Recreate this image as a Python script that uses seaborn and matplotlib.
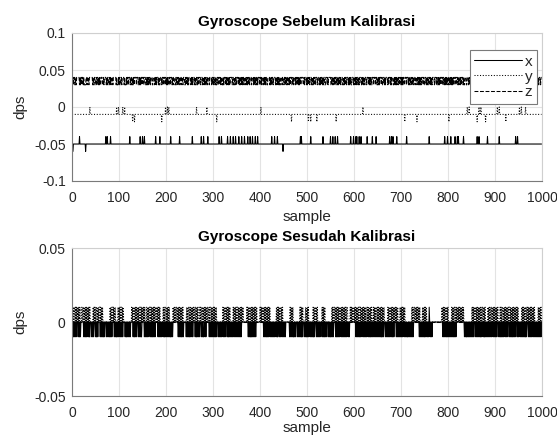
import numpy as np
import pandas as pd
import matplotlib
matplotlib.use("Agg")
import matplotlib.pyplot as plt
import seaborn as sns

# ---------------------------------------------------------------- data
N_SAMPLES = 1000

# Before calibration, x axis: sits at -0.05, steps to -0.04 / -0.06 at these samples
x_before_base = -0.05
x_before_up_idx = [16, 72, 75, 82, 123, 145, 150, 154, 178, 187, 210, 229, 256,
                   275, 280, 289, 313, 318, 331, 337, 343, 348, 355, 361, 367,
                   374, 379, 384, 390, 395, 425, 431, 437, 486, 488, 508, 534,
                   550, 555, 560, 565, 593, 599, 604, 606, 611, 615, 628, 639,
                   647, 676, 680, 683, 691, 712, 760, 793, 799, 806, 815, 820,
                   822, 833, 862, 866, 884, 909, 944, 948]
x_before_down_idx = [0, 1, 2, 29, 449]

# Before calibration, y axis: sits at -0.01, steps to 0 / -0.02 at these samples
y_before_base = -0.01
y_before_up_idx = [38, 95, 99, 108, 112, 199, 203, 206, 265, 287, 402, 619, 841,
                   845, 866, 870, 905, 909, 952, 956, 965]
y_before_down_idx = [129, 133, 191, 308, 467, 503, 508, 521, 562, 708, 734, 802,
                     862, 880, 923]

# Before calibration, z axis: '.' = 0.04, '3' = 0.03 (one char per sample)
z_before_code = [
    "33.3..33.3 ......3.3. .3..3.3333 ..3...3... ....3.33.. 33.3..3.3. 33...33.3. ...3.3..33 .3.3...3.. ....3.333.",
    "3.33..3... .3.333.3.. 3...3..3.3 3.3....3.. .33.3.3..3 ...3...33. 3.3.3..3.. .33...3.3. 3...3.33.. .3..3...3.",
    ".3.3.33..3 ...3.3...3 3..3.33.3. ..3...3... 33.3..3.3. ...3.3.3.. .3.33..3.. 3...3...3. .3.3.33.3. ..3....3..",
    "3.3..3.33. .3...3.3.. 33.3...3.3 ..3.3.3... .3..33.3.. 3...3.3..3 .3.3..3... 3.33.3..3. ..3...3.3. 3..3.3...3",
    "..3.3...3. 3.3..33... .3.3.3..3. ...3..3.3. 3.33...3.. .3..3.3..3 ..3.3...33 .3...3.3.. 3.3.3..3.. ..33.3...3",
    ".3.3..3... 3.33.3..3. ..3...3.3. 3..3.3..33 ...3.3.... .33.3..3.3 ..3..3.3.. 3.3...33.3 .3..3...3. 3.3.33...3",
    "..3.3.3..3 .3...33.3. 3..3...3.. .3.3.3.33. ..3...3..3 3.3.3...3. .33..3.3.. ..3.3...3. 3...33.3.3 .3..3..3..",
    "3.3.3..33. ..3...3.3. .3.33.3... 3...3..3.3 .3.3...3.. 33..3.3..3 ..3.3.3... .3...3.33. 3.3..3...3 ..3.3.3.3.",
    ".3..3.3.3. 3.33...3.. .3.3..3.3. ..3.33...3 3...3.3..3 .3.3..33.. ..3...3.3. 3.3.3..3.. .33.3...3. 3..3.3.3..",
    "3.3...3.3. .3.33..3.. 3..3.3...3 .3.3.3.3.. ..33...3.3 3.3.3..3.. .3...3.3.3 ..3.3..3.. 3.3.33..3. .3.3...3..",
]
z_before_levels = {".": 0.04, "3": 0.03}

# After calibration, x axis: '.' = 0, '-' = -0.01, '+' = 0.01
x_after_code = [
    "-.--.-.-.- ...-.--.-. .....-.-.- -.-..-.--. ..-.-.-... -.--.-.... -.-.-.--.- ...-.-..-. --.-.-.... -.-.--.-.-",
    "..-.-.-.-. ...-.--.-. -.-.-..... -.--.-.-.. .-.-.-.--. ....-.-.-. -.-...-.-. --.-.-.-.. ...-.-.-.- .-..-.--.-",
    ".-.-.-.-.- -.-.-..... ......-.-. -.--.-.-.. ...-.-.-.- -.-..-.-.. ..-.--.-.- .-...-.-.- -..-.-.... ..-.-.-.-.",
    "-.-.--.-.. .-.-.-.-.- ..-.-.-... -.--.-.-.- .-.-..-.-. -.-.-.-.-. -......... .....-.-.- -.--.-.-.- .-........",
    "........-. -.-.--.-.- ..-.-.-.-. -.-..-.--. .-.-.-..-. -.-.-..... ...-.-.-.- .--.-.-... -.-.-.-.-- .-...-.-.-",
    "-.-.-..-.- .-.--.-... -.-.-.-.-. ..-.-.--.- .-...-.-.- -.-.-.-... .-.--.-.-. -..-.-.-.- .-.-.-..-. -.........",
    "....-.-.-. -.--.-...- .-.-.-.-.. -.-.--.-.- .-..-.-.-. -.-.-.-.-- .-.-...-.- .-.-.-.-.. -.--.-.... -.-.-.-.-.",
    "-.-.-..-.- .-.--.-.-. -.-.-.-... .........- .-.-.-.-.- -.-..-.-.- +.-.-.-... .......... .........- .-.-.-.--.",
    "-.-.-.-.-. -.--.-.-.. .......... .....-.-.- -.-.--.-.- .-.-.-...- .-.-.-.-.- -.-..-.--. -.-.-.-.-. .-.-..-.-.",
    "-.-.-...-. -.--.-.-.- ..-.-.-... -.-.-.--.- .-.-...-.- .-..-.-.-. -.-.--.-.. .-.-.-.-.- ..-.-.-.-. -.-.-.-.-.",
]
x_after_levels = {".": 0.0, "-": -0.01, "+": 0.01}

# After calibration, y axis: '.' = 0, '+' = 0.01
y_after_code = [
    "+.+.++.+.+ .+.+.+.+.. .+.++.+.+. +.+.+.+.+. .....+.+.+ .++.+.+.++ .+.+.+.... .......... .+.+.++.+. +.+.....+.",
    "+.+.++.+.+ .......... .......+.+ .++.+.+.+. +.+.++.+.+ .+.+.+...+ .+.+.++.+. +.+.+.+.++ .+.+.+.+.. ....+.+.++",
    ".+.+.+.+.. .....+.+.+ .++.+.+.+. +.+.+.+... ....+.+.++ .+.+.+.+.+ .++.+.+.+. ..+.+.++.+ .+.+.+.+.+ +.+.++.+.+",
    ".+.+.+.+.. .......... .+.+.++.+. +.+.+.+... ...+.+.+.+ .++.+.+.+. +.+.+..... ..+.+.+.++ .+.+.+.+.+ .+.+......",
    "+.+.+.++.+ .+.+.+.+.+ .+........ .....+.+.+ .+.++.+.+. .......... ....+.+.+. +......... .....+.+.+ .+.....+.+",
    ".+.+...... ...+.+.++. +.+....... ..+.+.+.+. .......... ...+.+.++. +.+.+.+.+. ++.+.+.+.+ .+.+.++... ..+.+.+.++",
    ".+.+.+.+.+ .++.+.+.+. +.+.+.++.+ .+.+.+.+.. .+.+.+.++. +.+.+.+.+. +.+.+..... ..+.+.++.+ .+.+.+.+.+ .+.+....+.",
    "+.+.+.+.+. .......... ...+.+.++. +.+.+.+.+. +.....+.+. +.+.+..... .......... .......... .......+.+ .+.+.++.+.",
    "+.......+. +.+.++.+.+ .+.+.+.+.+ .+.+...... .......... .+.+.+.++. +.+.+.+.+. +.++.+.+.+ .....+.+.+ .++.+.+.+.",
    "+.+.+.+... .+.+.++.+. +.+.+.+.+. ++.+.+.+.+ .+.+.+.+.+ .......+.+ .+.+.++.+. +.+.+.+.+. +.+.+..... ..+.+.+.+.",
]
y_after_levels = {".": 0.0, "+": 0.01}

# After calibration, z axis stays at zero
z_after_value = 0.0

series_labels = ["x", "y", "z"]
x_ticks = [0, 100, 200, 300, 400, 500, 600, 700, 800, 900, 1000]
y_ticks_before = [-0.1, -0.05, 0, 0.05, 0.1]
y_ticks_after = [-0.05, 0, 0.05]
titles = ["Gyroscope Sebelum Kalibrasi", "Gyroscope Sesudah Kalibrasi"]


# ---------------------------------------------------------------- helpers
def decode(rows, levels):
    code = "".join(rows).replace(" ", "")
    assert len(code) == N_SAMPLES, len(code)
    return np.array([levels[c] for c in code])


def from_events(base, up_idx, up_val, down_idx, down_val):
    values = np.full(N_SAMPLES, base)
    values[up_idx] = up_val
    values[down_idx] = down_val
    return values


sample = np.arange(N_SAMPLES)
before = pd.DataFrame({
    "sample": sample,
    "x": from_events(x_before_base, x_before_up_idx, -0.04, x_before_down_idx, -0.06),
    "y": from_events(y_before_base, y_before_up_idx, 0.0, y_before_down_idx, -0.02),
    "z": decode(z_before_code, z_before_levels),
})
after = pd.DataFrame({
    "sample": sample,
    "x": decode(x_after_code, x_after_levels),
    "y": decode(y_after_code, y_after_levels),
    "z": np.full(N_SAMPLES, z_after_value),
})

# ---------------------------------------------------------------- style
sns.set_style("white")
plt.rcParams["font.family"] = ["Liberation Sans", "DejaVu Sans"]
plt.rcParams["axes.unicode_minus"] = False

W, H = 557, 437
fig = plt.figure(figsize=(W / 100, H / 100), dpi=100)


def px_axes(left, top, right, bottom):
    return fig.add_axes([left / W, 1 - bottom / H, (right - left) / W, (bottom - top) / H])


ax_top = px_axes(72, 33, 542, 181)
ax_bot = px_axes(72, 248, 542, 396)

line_styles = {"x": "-", "y": ":", "z": "--"}
line_w = 0.75
tick_color = "#262626"

for ax, df, yticks, title, xlabel_pad in [
    (ax_top, before, y_ticks_before, titles[0], 3),
    (ax_bot, after, y_ticks_after, titles[1], 0.5),
]:
    for name in series_labels:
        sns.lineplot(data=df, x="sample", y=name, ax=ax, color="black",
                     linewidth=line_w, linestyle=line_styles[name],
                     estimator=None, label=name, legend=False)
    ax.set_xlim(0, 1000)
    ax.set_ylim(yticks[0], yticks[-1])
    ax.set_xticks(x_ticks)
    ax.set_xticklabels([str(t) for t in x_ticks])
    ax.set_yticks(yticks)
    ax.set_yticklabels([f"{t:g}" for t in yticks])
    ax.grid(True, color="#e3e3e3", linewidth=0.8)
    ax.set_axisbelow(True)
    ax.tick_params(direction="in", length=4, width=0.7, color="#7a7a7a",
                   labelsize=10, labelcolor=tick_color)
    ax.tick_params(axis="x", pad=7.5)
    ax.tick_params(axis="y", pad=4.5)
    for side in ["left", "bottom"]:
        ax.spines[side].set_color("#7a7a7a")
        ax.spines[side].set_linewidth(0.8)
    for side in ["top", "right"]:
        ax.spines[side].set_color("#cfcfcf")
        ax.spines[side].set_linewidth(0.8)
    ax.set_xlabel("sample", fontsize=11, color=tick_color, labelpad=xlabel_pad)
    ax.set_ylabel("dps", fontsize=11, color=tick_color, labelpad=5)
    ax.set_title(title, fontsize=11, fontweight="bold", color="black", pad=5)

leg = ax_top.legend(loc="upper right", bbox_to_anchor=(0.989, 0.885),
                    borderaxespad=0, fontsize=11, handlelength=3.1,
                    handletextpad=0.2, labelspacing=0.08, borderpad=0.3,
                    fancybox=False, framealpha=1, edgecolor="#7a7a7a")
leg.get_frame().set_linewidth(0.8)

fig.savefig("out.png", dpi=100)
